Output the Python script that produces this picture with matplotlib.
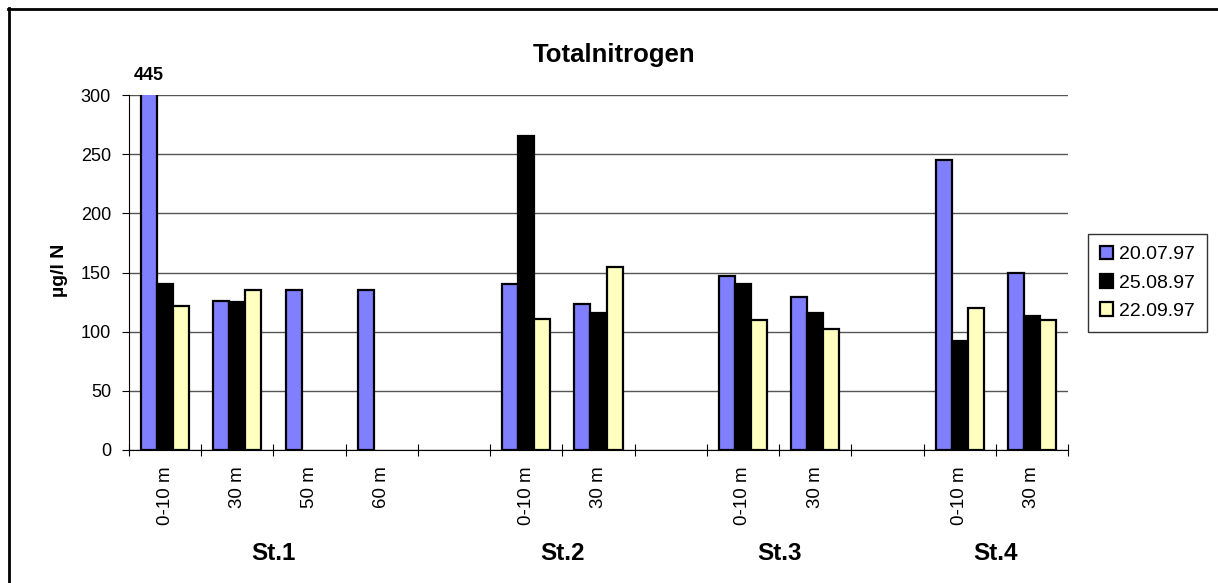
import matplotlib.pyplot as plt
from matplotlib.lines import Line2D
import numpy as np

plt.rcParams['font.family'] = ['Liberation Sans', 'DejaVu Sans']

depths = ['0-10 m', '30 m', '50 m', '60 m', '',
          '0-10 m', '30 m', '',
          '0-10 m', '30 m', '',
          '0-10 m', '30 m']
stations = ['St.1', 'St.2', 'St.3', 'St.4']
station_slots = [[0, 1, 2, 3], [5, 6], [8, 9], [11, 12]]
dates = ['20.07.97', '25.08.97', '22.09.97']
s1 = [445, 126, 135, 135, np.nan, 140, 123, np.nan, 147, 129, np.nan, 245, 150]
s2 = [140, 125, np.nan, np.nan, np.nan, 265, 116, np.nan, 140, 116, np.nan, 92, 113]
s3 = [122, 135, np.nan, np.nan, np.nan, 111, 155, np.nan, 110, 102, np.nan, 120, 110]
colors = ['#8080FF', '#000000', '#FFFFC0']

W, H = 1218, 583
fig = plt.figure(figsize=(W/100, H/100), dpi=100)
ax = fig.add_axes([129/W, 1-450/H, 939/W, 355/H])

x = np.arange(len(depths))
w = 0.222
for i, (vals, c, lab) in enumerate(zip([s1, s2, s3], colors, dates)):
    ax.bar(x + (i-1)*w, vals, w, color=c, edgecolor='black', linewidth=1.6, label=lab, zorder=3)

ax.set_ylim(0, 300)
ax.set_xlim(-0.5, len(depths)-0.5)
ax.set_yticks(range(0, 301, 50))
ax.yaxis.grid(True, color='#555555', linewidth=1.0, zorder=0)
ax.set_xticks(np.arange(len(depths)+1) - 0.5)
ax.set_xticklabels([])
ax.tick_params(axis='x', direction='inout', length=9, width=0.8)
ax.tick_params(axis='y', direction='out', length=5, width=0.8, labelsize=13, pad=8)
for sp in ['top', 'right']:
    ax.spines[sp].set_visible(False)
ax.spines['left'].set_linewidth(0.8)
ax.spines['bottom'].set_linewidth(0.8)

for xi, d in zip(x, depths):
    ax.text(xi, -13.5, d, rotation=90, ha='center', va='top', fontsize=13.5)
for st, slots in zip(stations, station_slots):
    ax.text(np.mean(slots), -87.5, st, ha='center', va='center', fontsize=17.5, fontweight='bold')

# the first bar is cut at 300, its value is written above it
ax.text(x[0] - w, 309, '445', ha='center', va='bottom', fontsize=13, fontweight='bold')
fig.text(60/W, 1-270/H, 'µg/l N', rotation=90, ha='center', va='center', fontsize=14, fontweight='bold')
fig.text(614/W, 1-55/H, 'Totalnitrogen', ha='center', va='center', fontsize=18.5, fontweight='bold')

leg = ax.legend(loc='upper left', bbox_to_anchor=((1088-129)/939, (450-234)/355), fontsize=14,
                frameon=True, fancybox=False, edgecolor='black', handlelength=0.7,
                handleheight=0.7, borderpad=0.6, labelspacing=0.55, handletextpad=0.3,
                borderaxespad=0)
leg.get_frame().set_linewidth(1.0)

fig.add_artist(Line2D([8/W, 1], [1-9/H, 1-9/H], color='black', linewidth=2))
fig.add_artist(Line2D([9/W, 9/W], [1-8/H, 0], color='black', linewidth=2))

plt.savefig('out.png', dpi=100)
plt.close()
